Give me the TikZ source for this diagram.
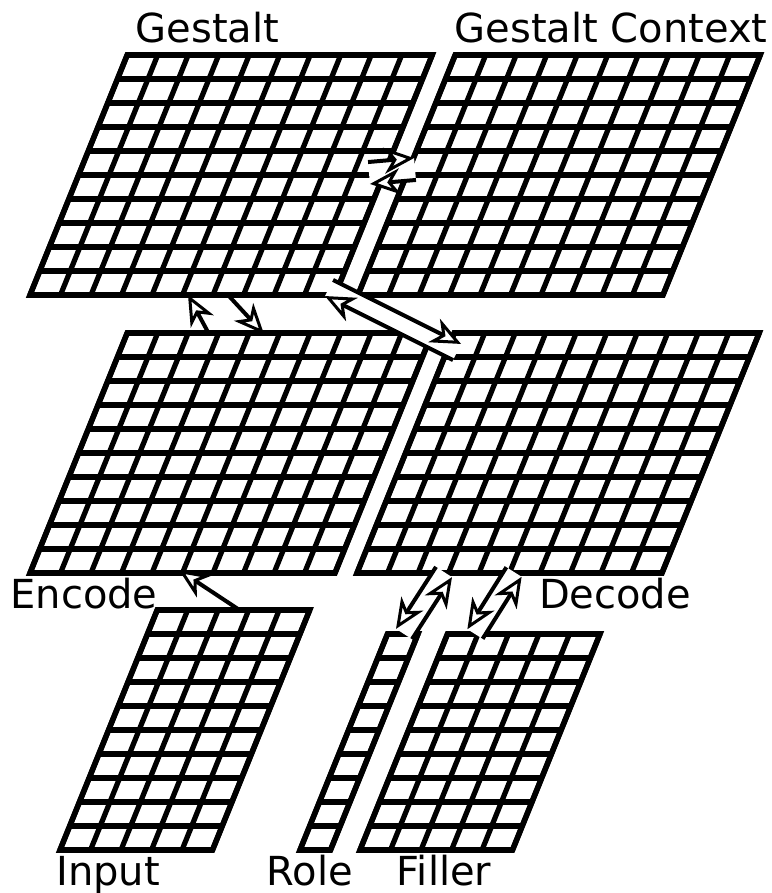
\documentclass[tikz,border=0pt]{standalone}
\usepackage{fontspec}
\setmainfont{DejaVu Sans}
\usetikzlibrary{arrows.meta,calc}
\tikzset{
  layerlabel/.style={font=\fontsize{40}{48}\selectfont, inner sep=0pt, anchor=base},
  cellline/.style={line width=5.2pt},
  layerframe/.style={line width=5.6pt, line join=miter},
  flow/.style={line width=4pt, -{Stealth[length=30pt,width=26pt,inset=9pt,fill=white,line width=3pt]}},
  bandfill/.style={fill=white}
}
% #1 name, #2 x of lower left corner, #3 y of bottom edge, #4 columns, #5 rows
\newcommand{\unitlayer}[5]{%
  \begin{scope}[shift={(#2,#3)}, x={(30.5pt,0pt)}, y={(9.72pt,24pt)}]
    \fill[white] (0,0) -- (#4,0) -- (#4,#5) -- (0,#5) -- cycle;
    \foreach \i in {0,...,#4} \draw[cellline] (\i,0) -- (\i,#5);
    \foreach \j in {0,...,#5} \draw[cellline] (0,\j) -- (#4,\j);
    \draw[layerframe] (0,0) -- (#4,0) -- (#4,#5) -- (0,#5) -- cycle;
    \coordinate (#1-sw) at (0,0);
    \coordinate (#1-ne) at (#4,#5);
  \end{scope}}
% two opposite arrows side by side: #1 from, #2 to, #3 half width, #4 side of the forward arrow
\newcommand{\twoway}[4]{%
  \coordinate (#1p) at ($(#1)!#3!#4:(#2)$);
  \coordinate (#1m) at ($(#1)!-#3!#4:(#2)$);
  \coordinate (#2p) at ($(#2)!-#3!#4:(#1)$);
  \coordinate (#2m) at ($(#2)!#3!#4:(#1)$);
  \fill[bandfill] (#1p) -- (#2p) -- (#2m) -- (#1m) -- cycle;
  \draw[flow] (#1p) -- (#2p);
  \draw[flow] (#2m) -- (#1m);}

\begin{document}
\begin{tikzpicture}[x=1pt,y=-1pt]
  \useasboundingbox (0,0) rectangle (771,893);

  \unitlayer{gestalt}{30}{295}{10}{10}
  \unitlayer{context}{358}{295}{10}{10}
  \unitlayer{encode}{30}{573}{10}{10}
  \unitlayer{decode}{357}{573}{10}{10}
  \unitlayer{input}{60}{850}{5}{10}
  \unitlayer{role}{300}{850}{1}{9}
  \unitlayer{filler}{360}{850}{5}{9}

  \node[layerlabel] (gestaltname) at (207.5,43) {Gestalt};
  \node[layerlabel] (contextname) at (611,43) {Gestalt Context};
  \node[layerlabel] (encodename) at (84,608) {Encode};
  \node[layerlabel] (decodename) at (615,608) {Decode};
  \node[layerlabel] (inputname) at (108,885) {Input};
  \node[layerlabel] (rolename) at (310,885) {Role};
  \node[layerlabel] (fillername) at (444,885) {Filler};

  \coordinate (gc) at (369,173);
  \coordinate (cg) at (415,169);
  \coordinate (gd) at (329,288);
  \coordinate (dg) at (457,352);
  \coordinate (dr) at (444,572);
  \coordinate (rd) at (404,634);
  \coordinate (df) at (514,572);
  \coordinate (fd) at (475,634);
  \coordinate (geup) at (209,334);
  \coordinate (getip) at (188,295);
  \coordinate (egup) at (228,295);
  \coordinate (egtip) at (264,334);
  \coordinate (inup) at (238,609);
  \coordinate (intip) at (179,570);

  \draw[flow] (geup) -- (getip);
  \draw[flow] (egup) -- (egtip);
  \draw[flow] (inup) -- (intip);
  \twoway{gc}{cg}{11pt}{90}
  \twoway{gd}{dg}{9pt}{90}
  \twoway{dr}{rd}{9.5pt}{-90}
  \twoway{df}{fd}{9pt}{-90}
\end{tikzpicture}
\end{document}
